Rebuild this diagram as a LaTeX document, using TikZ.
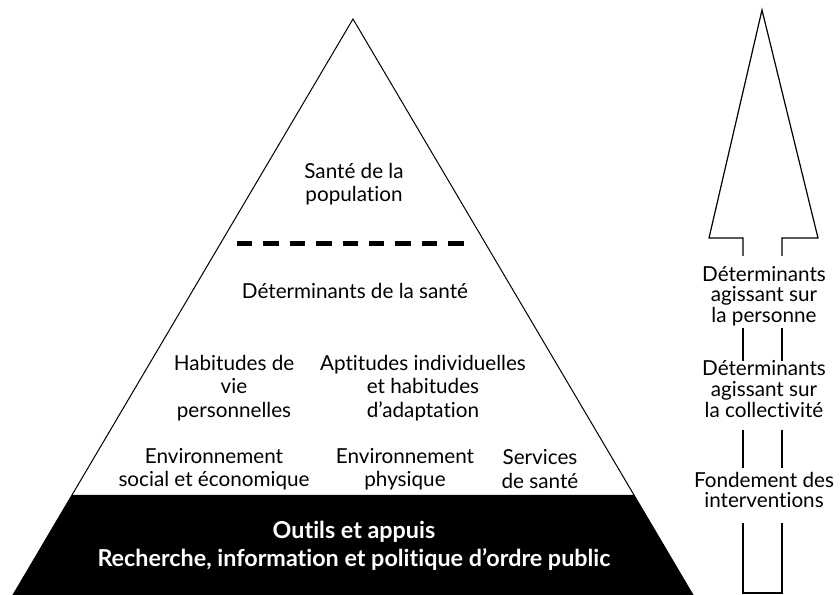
\documentclass[tikz,border=0pt]{standalone}
\usepackage{fontspec}
\setmainfont{Lato}[Ligatures=NoCommon]
\usepackage{tikz}

\tikzset{
  lbl/.style={inner sep=0.75pt, align=center, font=\fontsize{15.5}{17.5}\selectfont},
  sidelbl/.style={inner sep=0.75pt, align=center, font=\fontsize{15.5}{15.5}\selectfont},
  baselbl/.style={inner sep=0.75pt, align=center, text=white, font=\bfseries\fontsize{17.5}{21}\selectfont}
}

\begin{document}
\begin{tikzpicture}[x=0.75pt,y=0.75pt,yscale=-1,xscale=1]
        \useasboundingbox (0,0) rectangle (840,595);

        %Shape: Triangle
        \draw [line width=0.75] (353,19) -- (693,595) -- (13,595) -- cycle ;
        %Shape: Polygon (black base band)
        \fill [black] (72,495) -- (634,495) -- (693,595) -- (13,595) -- cycle ;
        %Straight Lines (dashed separator)
        \draw [line width=3.75, dash pattern=on 11.6pt off 8.2pt] (237,244) -- (465,244) ;

        %Shape: Arrow head
        \draw [line width=0.9] (743,256) -- (743,238) -- (709,238) -- (762,10) -- (818,238) -- (782,238) -- (782,256) ;
        %Straight Lines (shaft pieces)
        \draw [line width=0.9] (743,328) -- (743,361) (782,328) -- (782,361) ;
        \draw [line width=0.9] (743,430) -- (743,468) (782,430) -- (782,468) ;
        %Shape: Arrow tail
        \draw [line width=0.9] (743,523) -- (743,593) -- (782,593) -- (782,523) ;

        % Text Node
        \node [lbl] (pop) at (354,184) {Santé de la\\population};
        % Text Node
        \node [lbl] (det) at (355,291) {Déterminants de la santé};
        % Text Node
        \node [lbl] (habits) at (234,388) {Habitudes de\\vie\\personnelles};
        % Text Node
        \node [lbl] (aptitudes) at (423,388) {Aptitudes individuelles\\et habitudes\\d’adaptation};
        % Text Node
        \node [lbl] (envsoc) at (214,469) {Environnement\\social et économique};
        % Text Node
        \node [lbl] (envphys) at (405,469) {Environnement\\physique};
        % Text Node
        \node [lbl] (services) at (540,469) {Services\\de santé};
        % Text Node
        \node [baselbl] (tools) at (354,546) {Outils et appuis\\Recherche, information et politique d’ordre public};

        % Text Node
        \node [sidelbl] (person) at (764,296) {Déterminants\\agissant sur\\la personne};
        % Text Node
        \node [sidelbl] (collect) at (764,389) {Déterminants\\agissant sur\\la collectivité};
        % Text Node
        \node [sidelbl] (basis) at (764,490) {Fondement des\\interventions};

    \end{tikzpicture}
\end{document}
